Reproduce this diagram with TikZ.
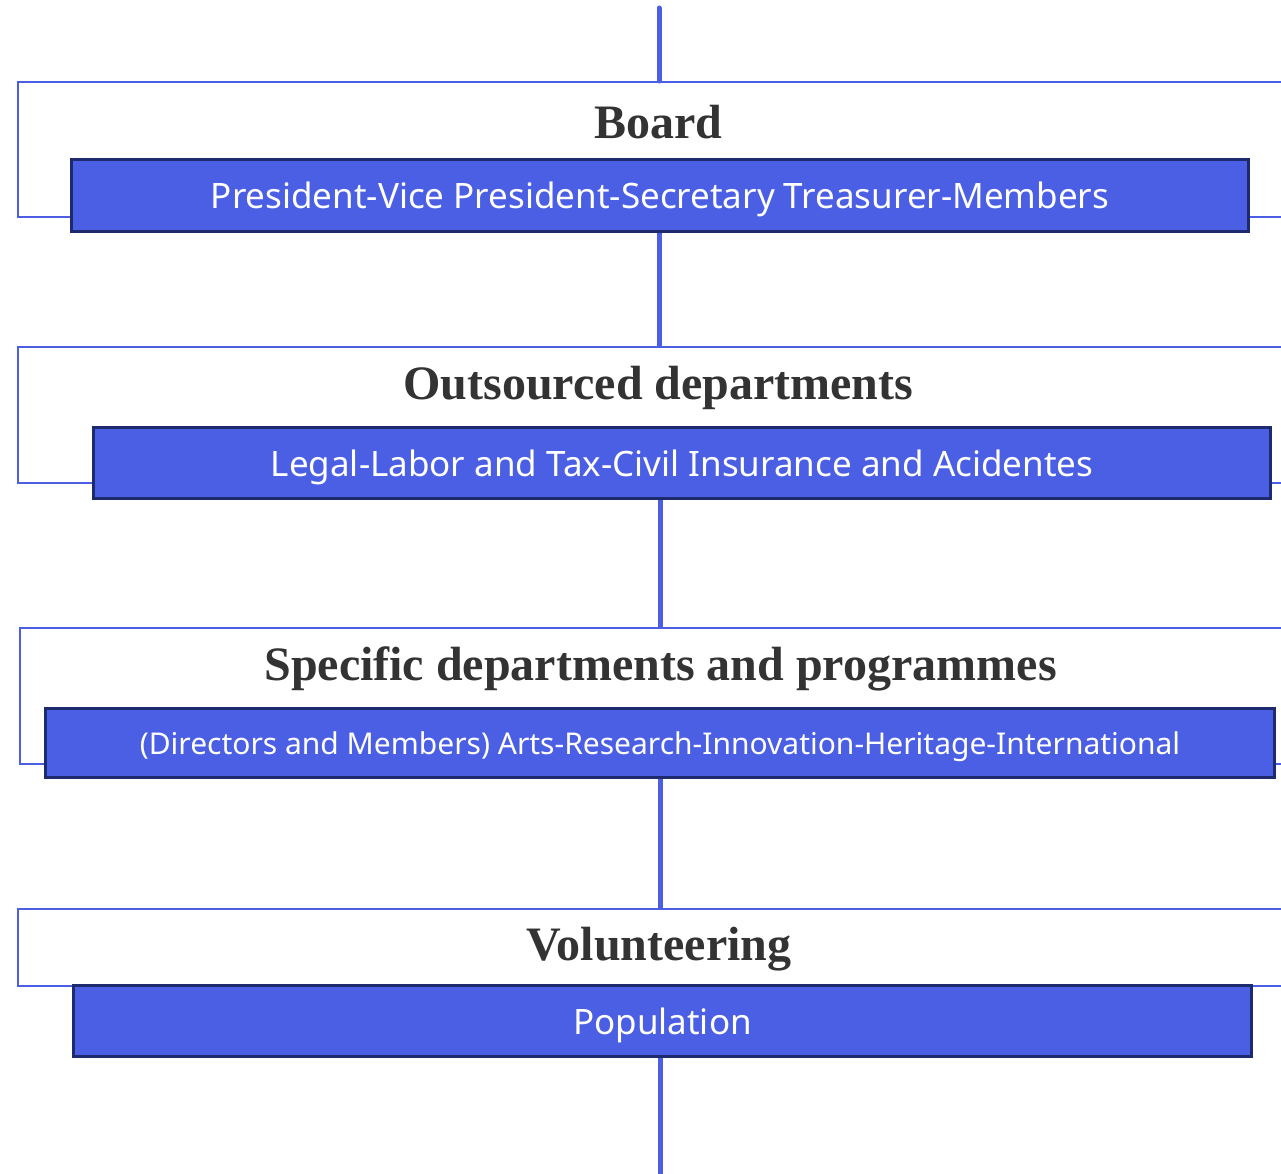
\documentclass[tikz,border=0pt]{standalone}
\usepackage{fontspec}
\setmainfont{Liberation Serif}
\newfontfamily\subfont{Noto Sans}
\definecolor{lineblue}{HTML}{4B5EE4}
\definecolor{fillblue}{HTML}{4B5FE4}
\definecolor{navy}{HTML}{1E2A6E}
\definecolor{titlegray}{HTML}{333333}
\tikzset{
  outerbox/.style={draw=lineblue, line width=2pt, fill=white, rectangle, anchor=north west, inner sep=0pt},
  innerbox/.style={draw=navy, line width=3pt, fill=fillblue, rectangle, anchor=north west, inner sep=0pt, text=white, text depth=0pt, font=\subfont\fontsize{35}{42}\selectfont},
  titletext/.style={text=titlegray, font=\fontsize{48}{56}\selectfont\bfseries, inner sep=0pt},
  connector/.style={draw=lineblue, line width=5pt}
}
\begin{document}
\begin{tikzpicture}[x=1pt,y=-1pt]
\useasboundingbox (0,0) rectangle (1281,1174);
\clip (0,0) rectangle (1281,1174);
\coordinate (top) at (659,8);
\coordinate (bottom) at (660,1174);
\coordinate (sp) at (660,0);
% Board
\node[outerbox, minimum width=1300, minimum height=135] (b1out) at (17,81) {};
\node[titletext] (b1t) at (658.5,122) {Board};
\node[innerbox, minimum width=1177, minimum height=72] (b1in) at (70,158) {President-Vice President-Secretary Treasurer-Members};
% Outsourced
\node[outerbox, minimum width=1300, minimum height=136] (b2out) at (17,346) {};
\node[titletext] (b2t) at (658.5,388) {Outsourced departments};
\node[innerbox, minimum width=1177, minimum height=71] (b2in) at (92,426) {Legal-Labor and Tax-Civil Insurance and Acidentes};
% Specific
\node[outerbox, minimum width=1300, minimum height=136] (b3out) at (19,627) {};
\node[titletext] (b3t) at (660.5,669) {Specific departments and programmes};
\node[innerbox, minimum width=1229, minimum height=69, font=\subfont\fontsize{30}{36}\selectfont] (b3in) at (44,707) {(Directors and Members) Arts-Research-Innovation-Heritage-International};
% Volunteering
\node[outerbox, minimum width=1300, minimum height=77] (b4out) at (17,908) {};
\node[titletext] (b4t) at (659,949) {Volunteering};
\node[innerbox, minimum width=1178, minimum height=71] (b4in) at (72,984) {Population};
% connectors
\draw[connector, line cap=round] (top) -- (b1out.north -| top);
\draw[connector] (b1in.south -| top) -- (b2out.north -| top);
\draw[connector] (b2in.south -| sp) -- (b3out.north -| sp);
\draw[connector] (b3in.south -| sp) -- (b4out.north -| sp);
\draw[connector] (b4in.south -| sp) -- (bottom);
\end{tikzpicture}
\end{document}
